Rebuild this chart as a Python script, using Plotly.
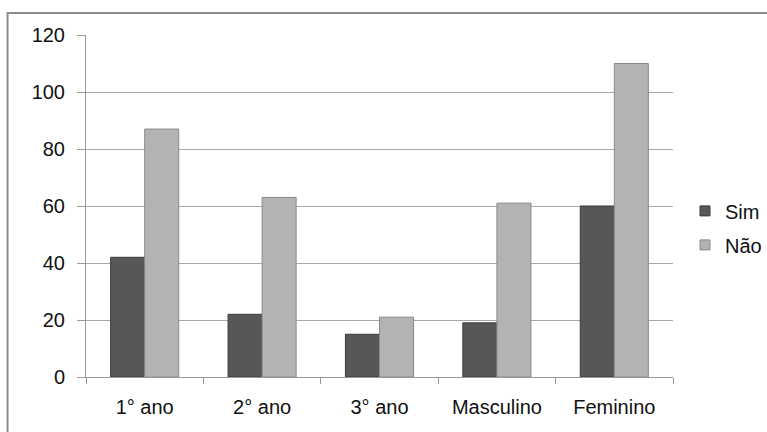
import plotly.graph_objects as go

categories = ["1° ano", "2° ano", "3° ano", "Masculino", "Feminino"]
sim = [42, 22, 15, 19, 60]
nao = [87, 63, 21, 61, 110]
y_ticks = [0, 20, 40, 60, 80, 100, 120]

FONT = "Liberation Sans, Arial, sans-serif"
SIM_C, SIM_L = "#575757", "#3a3a3a"
NAO_C, NAO_L = "#b3b3b3", "#8a8a8a"

fig = go.Figure()
fig.add_trace(go.Bar(name="Sim", x=categories, y=sim, showlegend=False,
                     marker=dict(color=SIM_C, line=dict(color=SIM_L, width=1))))
fig.add_trace(go.Bar(name="Não", x=categories, y=nao, showlegend=False,
                     marker=dict(color=NAO_C, line=dict(color=NAO_L, width=1))))
# legend entries with small square swatches
fig.add_trace(go.Scatter(name="Sim", x=[None], y=[None], mode="markers", legendgroup="a",
                         marker=dict(symbol="square", size=10, color=SIM_C,
                                     line=dict(color=SIM_L, width=1))))
fig.add_trace(go.Scatter(name="Não", x=[None], y=[None], mode="markers", legendgroup="b",
                         marker=dict(symbol="square", size=10, color=NAO_C,
                                     line=dict(color=NAO_L, width=1))))

W, H = 767, 432
ml, mr, mt, mb = 86, 90, 35, 55
pw, ph = W - ml - mr, H - mt - mb

fig.update_layout(
    width=W, height=H,
    margin=dict(l=ml, r=mr, t=mt, b=mb),
    paper_bgcolor="white", plot_bgcolor="white",
    barmode="group", bargap=0.42, bargroupgap=0,
    font=dict(family=FONT, size=20, color="#111"),
    legend=dict(xref="container", x=1.0, y=0.436, xanchor="right", yanchor="middle",
                traceorder="grouped", tracegroupgap=5, itemwidth=30,
                font=dict(size=20), bgcolor="rgba(0,0,0,0)"),
    xaxis=dict(showline=True, linecolor="#9a9a9a", linewidth=1,
               ticks="outside", tickson="boundaries", ticklen=6, tickcolor="#9a9a9a",
               showgrid=False, tickfont=dict(size=20), ticklabelstandoff=12),
    yaxis=dict(range=[0, 120], tickvals=y_ticks, showline=True, linecolor="#9a9a9a",
               linewidth=1, ticks="outside", ticklen=8, tickcolor="#9a9a9a",
               showgrid=True, gridcolor="#a8a8a8", gridwidth=1, zeroline=False,
               tickfont=dict(size=20), ticklabelstandoff=8),
)

# outer chart border (Excel style)
fig.add_shape(type="rect", xref="paper", yref="paper",
              x0=(7 - ml) / pw, x1=(W + 20 - ml) / pw,
              y0=-(H + 20 - (H - mb)) / ph, y1=1 + (mt - 13) / ph,
              line=dict(color="#8c8c8c", width=2), layer="below")

fig.write_html("out.html", config={"displayModeBar": False},
               post_script="document.body.style.margin='0';")
